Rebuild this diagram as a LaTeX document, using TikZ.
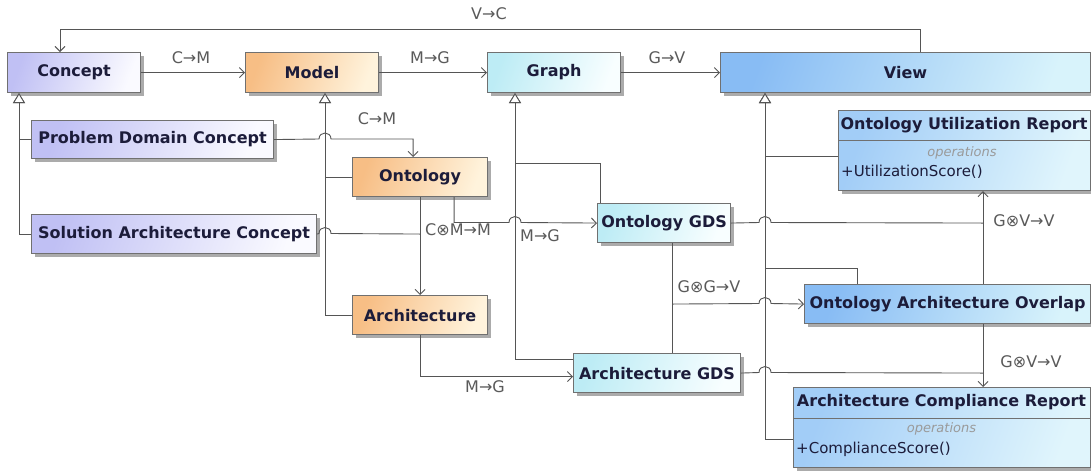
\documentclass[tikz,border=0pt]{standalone}
\usepackage{fontspec}
\setmainfont{DejaVu Sans}
\usetikzlibrary{arrows.meta,shadows,calc}
\definecolor{edge}{HTML}{555555}
\definecolor{bord}{HTML}{707070}
\definecolor{ink}{HTML}{1C1C3A}
\definecolor{lbl}{HTML}{5A5A5A}
\definecolor{opc}{HTML}{9A9A9A}
\definecolor{cL}{HTML}{C0C0F4}
\definecolor{cR}{HTML}{FAFAFF}
\definecolor{mL}{HTML}{F7BE85}
\definecolor{mR}{HTML}{FFF3DC}
\definecolor{gL}{HTML}{BDECF5}
\definecolor{gR}{HTML}{F8FEFF}
\definecolor{vL}{HTML}{88BCF4}
\definecolor{vR}{HTML}{D8F3FB}
\definecolor{uL}{HTML}{A2CDF7}
\definecolor{uR}{HTML}{E0F5FC}
\tikzset{
  box/.style={draw=bord, line width=1.1pt, anchor=north west, inner sep=0pt,
    font=\bfseries\fontsize{16}{18}\selectfont, text=ink,
    drop shadow={shadow xshift=3pt, shadow yshift=-3pt, fill=black!60, opacity=0.55}},
  cbox/.style={box, left color=cL, right color=cR, shading angle=70},
  mbox/.style={box, left color=mL, right color=mR, shading angle=70},
  gbox/.style={box, left color=gL, right color=gR, shading angle=70},
  vbox/.style={box, left color=vL, right color=vR, shading angle=70},
  ubox/.style={box, left color=uL, right color=uR, shading angle=70},
  conn/.style={draw=edge, line width=0.9pt},
  assoc/.style={conn, -{Straight Barb[length=5pt,width=10pt,line width=0.9pt]}},
  gen/.style={conn, -{Triangle[open,fill=white,length=10pt,width=12pt,line width=0.9pt]}},
  lab/.style={font=\fontsize{16}{18}\selectfont, text=lbl, inner sep=0pt},
  hdr/.style={font=\bfseries\fontsize{16}{18}\selectfont, text=ink, inner sep=0pt},
  opsl/.style={font=\itshape\fontsize{13}{15}\selectfont, text=opc, inner sep=0pt},
  meth/.style={font=\fontsize{15}{17}\selectfont, text=ink, inner sep=0pt, anchor=west},
}
\begin{document}
\begin{tikzpicture}[x=1pt, y=-1pt]
\fill[white] (0,0) rectangle (1091,474);
\useasboundingbox (0,0) rectangle (1091,474);

% boxes
\node[cbox, minimum width=133, minimum height=40] (concept) at (7,52) {Concept};
\node[mbox, minimum width=133, minimum height=40] (model) at (245,52) {Model};
\node[gbox, minimum width=133, minimum height=40] (graph) at (487,52) {Graph};
\node[vbox, minimum width=370, minimum height=40] (view) at (720,52) {View};
\node[cbox, minimum width=242, minimum height=38] (pdc) at (31,120) {Problem Domain Concept};
\node[cbox, minimum width=285, minimum height=39] (sac) at (31,214) {Solution Architecture Concept};
\node[mbox, minimum width=135, minimum height=39] (onto) at (352,157) {Ontology};
\node[mbox, minimum width=135, minimum height=39] (arch) at (352,295) {Architecture};
\node[gbox, minimum width=133, minimum height=39] (ogds) at (597,203) {Ontology GDS};
\node[gbox, minimum width=167, minimum height=39] (agds) at (573,353) {Architecture GDS};
\node[ubox, minimum width=252, minimum height=80] (our) at (838,110) {};
\node[vbox, minimum width=286, minimum height=39] (oao) at (804,284) {Ontology Architecture Overlap};
\node[ubox, minimum width=297, minimum height=80] (acr) at (793,387) {};

% class compartments
\node[hdr] (ourh) at ($(our.north west)+(126,15)$) {Ontology Utilization Report};
\draw[draw=bord, line width=0.9pt] ($(our.north west)+(0,30)$) -- ($(our.north east)+(0,30)$);
\node[opsl] (ouro) at ($(our.north west)+(124,43)$) {operations};
\node[meth] (ourm) at ($(our.north west)+(3,62)$) {+UtilizationScore()};

\node[hdr] (acrh) at ($(acr.north west)+(148.5,15)$) {Architecture Compliance Report};
\draw[draw=bord, line width=0.9pt] ($(acr.north west)+(0,31)$) -- ($(acr.north east)+(0,31)$);
\node[opsl] (acro) at ($(acr.north west)+(148.5,42)$) {operations};
\node[meth] (acrm) at ($(acr.north west)+(3,62)$) {+ComplianceScore()};

% top row associations
\draw[assoc] (concept.east) -- (model.west);
\node[lab] (l1) at (191,58) {C→M};
\draw[assoc] (model.east) -- (graph.west);
\node[lab] (l2) at (430,58) {M→G};
\draw[assoc] (graph.east) -- (view.west);
\node[lab] (l3) at (667,58) {G→V};
\draw[assoc] ($(view.north west)+(200,0)$) -- ++(0,-23) -| ($(concept.north west)+(53,0)$);
\node[lab] (l4) at (489,14) {V→C};

% generalizations
\draw[gen] (pdc.west) -| ($(concept.south west)+(12,0)$);
\draw[gen] (sac.west) -| ($(concept.south west)+(12,0)$);
\draw[gen] (onto.west) -| ($(model.south west)+(80,0)$);
\draw[gen] (arch.west) -| ($(model.south west)+(80,0)$);
\draw[gen] ($(ogds.north west)+(3,0)$) -- ++(0,-40) -| ($(graph.south west)+(28,0)$);
\draw[gen] ($(agds.west)+(0,-13.5)$) -| ($(graph.south west)+(28,0)$);
\draw[gen] ($(our.west)+(0,6)$) -| ($(view.south west)+(45,0)$);
\draw[gen] ($(oao.north west)+(53,0)$) -- ++(0,-16) -| ($(view.south west)+(45,0)$);
\draw[gen] ($(acr.west)+(0,12)$) -| ($(view.south west)+(45,0)$);

% PDC -> Ontology
\draw[assoc] (pdc.east) -- (319,139) .. controls (319,131) and (331,131) .. (331,139) -| ($(onto.north)+(-7,0)$);
\node[lab] (l5) at (377,119) {C→M};

% Ontology -> Architecture, with SAC joining
\draw[assoc] (onto.south) -- (arch.north);
\coordinate (jcm) at (onto.south |- sac.east);
\draw[conn] (sac.east) -- (319,233.5) .. controls (319,225.5) and (331,225.5) .. (331,233.5) -- (jcm);
\node[lab] (l6) at (458,230) {C⊗M→M};

% Ontology -> Ontology GDS
\draw[assoc] ($(onto.south)+(34,0)$) |- (509,222.5) .. controls (509,214.5) and (521,214.5) .. (521,222.5) -- (ogds.west);
\node[lab] (l7) at (540,236) {M→G};

% Architecture -> Architecture GDS
\draw[assoc] (arch.south) |- ($(agds.west)+(0,3.5)$);
\node[lab] (l8) at (485,387) {M→G};

% Ontology GDS -- Architecture GDS, to Overlap
\coordinate (xg) at ($(ogds.south)+(8.5,0)$);
\draw[conn] (xg) -- ($(agds.north)+(15.5,0)$);
\coordinate (jgg) at (xg |- oao.west);
\draw[assoc] (jgg) -- (759,303.5) .. controls (759,295.5) and (771,295.5) .. (771,303.5) -- (oao.west);
\node[lab] (l9) at (709,287) {G⊗G→V};

% Ontology GDS + Overlap -> Utilization Report
\coordinate (xa) at ($(oao.north west)+(179,0)$);
\coordinate (xb) at ($(oao.south west)+(179,0)$);
\coordinate (jv1) at (xa |- ogds.east);
\draw[conn] (ogds.east) -- (759,222.5) .. controls (759,214.5) and (771,214.5) .. (771,222.5) -- (jv1);
\draw[assoc] (xa) -- ($(our.south west)+(145,0)$);
\node[lab] (l10) at (1024,221) {G⊗V→V};

% Architecture GDS + Overlap -> Compliance Report
\coordinate (jv2) at (xb |- agds.east);
\draw[conn] (agds.east) -- (759,372.5) .. controls (759,364.5) and (771,364.5) .. (771,372.5) -- (jv2);
\draw[assoc] (xb) -- ($(acr.north west)+(190,0)$);
\node[lab] (l11) at (1031,362) {G⊗V→V};
\end{tikzpicture}
\end{document}
